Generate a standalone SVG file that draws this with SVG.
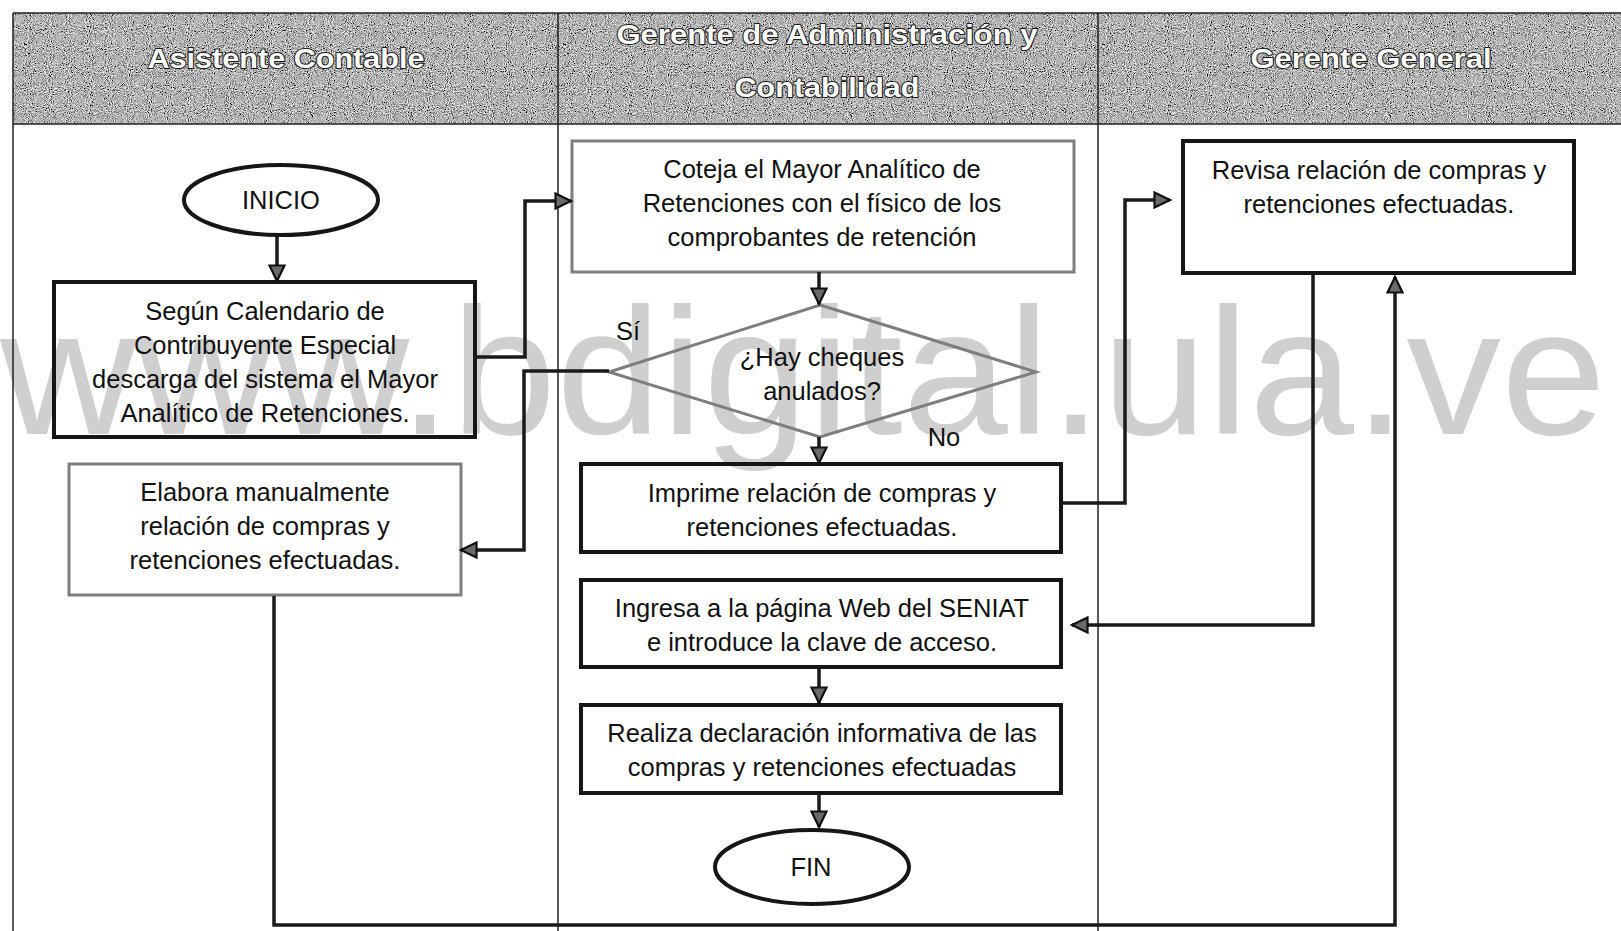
<svg xmlns="http://www.w3.org/2000/svg" width="1621" height="931" viewBox="0 0 1621 931">
<style>
.frame{stroke:#222;stroke-width:1.5;fill:none}
.hdr{font-family:"Liberation Sans",Arial,sans-serif;font-weight:bold;font-size:28px;fill:#fff;stroke:#1a1a1a;stroke-width:2;paint-order:stroke;stroke-linejoin:round;text-anchor:middle}
.t{font-family:"Liberation Sans",Arial,sans-serif;font-size:25.5px;fill:#111;text-anchor:middle}
.thick{fill:none;stroke:#161616;stroke-width:4}
.light{fill:none;stroke:#7e7e7e;stroke-width:3}
.conn{fill:none;stroke:#1a1a1a;stroke-width:3.5;marker-end:url(#arr)}
.wm{font-family:"Liberation Sans",Arial,sans-serif;font-size:180px;fill:#cfcfcf}
</style>
<defs>
<filter id="noise" x="0" y="0" width="100%" height="100%">
<feTurbulence type="fractalNoise" baseFrequency="0.95" numOctaves="2" seed="4" result="t"/>
<feColorMatrix in="t" type="matrix" values="1.7 0 0 0 -0.4  1.7 0 0 0 -0.4  1.7 0 0 0 -0.4  0 0 0 0 1"/>
</filter>
<marker id="arr" markerWidth="20" markerHeight="18" refX="17" refY="9" orient="auto" markerUnits="userSpaceOnUse">
<path d="M1.5,1.5 L17,9 L1.5,16.5 Z" fill="#6a6a6a" stroke="#111" stroke-width="2.2" stroke-linejoin="miter"/>
</marker>
</defs>
<rect width="1621" height="931" fill="#fff"/>
<g id="header">
<rect x="13" y="13" width="1608" height="111" fill="#9a9a9a" filter="url(#noise)"/>
<text class="hdr" x="286" y="68" textLength="277" lengthAdjust="spacingAndGlyphs">Asistente Contable</text>
<text class="hdr" x="827" y="44" textLength="421" lengthAdjust="spacingAndGlyphs">Gerente de Administración y</text>
<text class="hdr" x="827" y="97" textLength="185" lengthAdjust="spacingAndGlyphs">Contabilidad</text>
<text class="hdr" x="1371" y="68" textLength="241" lengthAdjust="spacingAndGlyphs">Gerente General</text>
</g>
<text class="wm" x="0" y="434" textLength="1606" lengthAdjust="spacingAndGlyphs">www.bdigital.ula.ve</text>
<g id="lanes">
<path class="frame" d="M13,13 H1621 M13,124 H1621 M13,13 V931 M558,13 V931 M1098,13 V931"/>
</g>
<g id="inicio">
<ellipse class="thick" cx="281" cy="200" rx="97" ry="35"/>
<text class="t" x="281" y="209">INICIO</text>
</g>
<g id="descarga">
<rect class="thick" x="54" y="282" width="421" height="155"/>
<text class="t" x="265" y="320">Según Calendario de</text>
<text class="t" x="265" y="354">Contribuyente Especial</text>
<text class="t" x="265" y="388">descarga del sistema el Mayor</text>
<text class="t" x="265" y="422">Analítico de Retenciones.</text>
</g>
<g id="elabora">
<rect class="light" x="69" y="464" width="392" height="131"/>
<text class="t" x="265" y="501">Elabora manualmente</text>
<text class="t" x="265" y="535">relación de compras y</text>
<text class="t" x="265" y="569">retenciones efectuadas.</text>
</g>
<g id="coteja">
<rect class="light" x="572" y="141" width="502" height="131"/>
<text class="t" x="822" y="178">Coteja el Mayor Analítico de</text>
<text class="t" x="822" y="212">Retenciones con el físico de los</text>
<text class="t" x="822" y="246">comprobantes de retención</text>
</g>
<g id="decision">
<polygon class="light" points="820,305 1036,372 820,437 609,372"/>
<text class="t" x="822" y="366">¿Hay cheques</text>
<text class="t" x="822" y="400">anulados?</text>
<text class="t" x="628" y="340">Sí</text>
<text class="t" x="944" y="446">No</text>
</g>
<g id="imprime">
<rect class="thick" x="581" y="464" width="480" height="88"/>
<text class="t" x="822" y="502">Imprime relación de compras y</text>
<text class="t" x="822" y="536">retenciones efectuadas.</text>
</g>
<g id="ingresa">
<rect class="thick" x="581" y="580" width="480" height="87"/>
<text class="t" x="822" y="617">Ingresa a la página Web del SENIAT</text>
<text class="t" x="822" y="651">e introduce la clave de acceso.</text>
</g>
<g id="realiza">
<rect class="thick" x="581" y="705" width="480" height="88"/>
<text class="t" x="822" y="742">Realiza declaración informativa de las</text>
<text class="t" x="822" y="776">compras y retenciones efectuadas</text>
</g>
<g id="fin">
<ellipse class="thick" cx="812" cy="867" rx="97" ry="37"/>
<text class="t" x="811" y="876">FIN</text>
</g>
<g id="revisa">
<rect class="thick" x="1183" y="141" width="391" height="132"/>
<text class="t" x="1379" y="179">Revisa relación de compras y</text>
<text class="t" x="1379" y="213">retenciones efectuadas.</text>
</g>
<g id="connectors">
<path class="conn" d="M277,236 V281"/>
<path class="conn" d="M475,357 H525 V201 H571"/>
<path class="conn" d="M609,371 H524 V550 H461"/>
<path class="conn" d="M819,272 V304"/>
<path class="conn" d="M819,437 V463"/>
<path class="conn" d="M1061,503 H1125 V200 H1170"/>
<path class="conn" d="M1313,273 V625 H1072"/>
<path class="conn" d="M819,667 V703"/>
<path class="conn" d="M819,793 V827"/>
<path class="conn" d="M274,596 V925 H1395 V277"/>
</g>
</svg>
